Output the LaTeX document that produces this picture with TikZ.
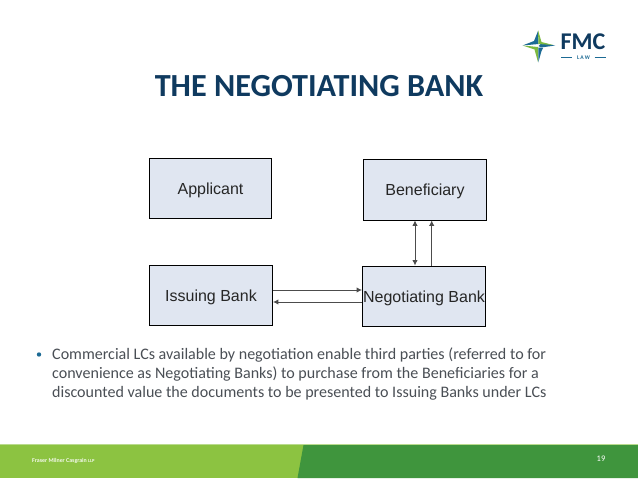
\documentclass[tikz,border=0pt]{standalone}
\usepackage{fontspec}
\setmainfont{Carlito}
\newfontfamily\arialf{Liberation Sans}
\usetikzlibrary{arrows.meta}
\definecolor{navy}{HTML}{0F3A5F}
\definecolor{boxfill}{HTML}{E0E6F1}
\definecolor{lgreen}{HTML}{8CC341}
\definecolor{dgreen}{HTML}{3F953D}
\definecolor{bodyc}{HTML}{4A4F55}
\definecolor{logob}{HTML}{1C6A94}
\tikzset{
  bankbox/.style={draw=black,fill=boxfill,line width=0.9pt,minimum width=0pt,inner sep=0pt,text height=15pt,text depth=3pt,font=\arialf\fontsize{16}{18}\selectfont,text=black!85},
  flow/.style={draw=black!70,line width=1pt,-{Latex[length=5.5pt,width=5.5pt]}},
  bothflow/.style={draw=black!70,line width=1pt,{Latex[length=5.5pt,width=5.5pt]}-{Latex[length=5.5pt,width=5.5pt]}},
  bodyline/.style={anchor=base west,inner sep=0pt,text=bodyc,font=\fontsize{16.05}{19}\selectfont}
}
\begin{document}
\begin{tikzpicture}[x=1pt,y=-1pt]
\useasboundingbox (0,0) rectangle (638,479);
\fill[white] (0,0) rectangle (638,479);
% footer
\fill[lgreen] (0,445) rectangle (638,478);
\fill[dgreen] (303.5,445) -- (638,445) -- (638,478) -- (297.5,478) -- cycle;
\draw[lgreen!60!white,line width=0.8pt] (0,444.7) -- (638,444.7);
\node[anchor=west,inner sep=0pt,text=white!90!lgreen,font=\bfseries\fontsize{5.9}{7}\selectfont] (firm) at (32,461) {Fraser Milner Casgrain \fontsize{4.6}{7}\selectfont LLP};
\node[inner sep=0pt,text=white,font=\fontsize{8.5}{10}\selectfont] (pageno) at (601,459) {19};
% logo
\fill[logob] (538.5,46) -- (541.5,43) -- (555,45.5) -- (541,47.5) -- cycle;
\fill[logob] (522.5,45.5) -- (534,41) -- (538,31) -- (538.5,44) -- cycle;
\fill[lgreen!80!dgreen] (538,30) -- (541.5,42) -- (553,45) -- (538.5,44) -- cycle;
\fill[lgreen!80!dgreen] (522.5,45.5) -- (538,47) -- (538,62) -- (534.5,49.5) -- cycle;
\fill[logob] (538.3,62.5) -- (538.3,47.5) -- (543,48) -- (541.5,51) -- cycle;
\node[anchor=base west,inner sep=0pt,text=navy,font=\bfseries\fontsize{24}{26}\selectfont] (fmc) at (560.5,49) {FMC};
\node[inner sep=0pt,text=logob,font=\bfseries\fontsize{5.6}{7}\selectfont] (law) at (583.5,57.6) {L\,A\,W};
\draw[logob,line width=0.8pt] (561,57.6) -- (572,57.6) (594.5,57.6) -- (606,57.6);
% title
\node[inner sep=0pt,text=navy,font=\bfseries\fontsize{32.2}{36}\selectfont] (title) at (319,86) {THE NEGOTIATING BANK};
% boxes
\node[bankbox,minimum width=122pt,minimum height=60pt] (app) at (210.5,188.5) {Applicant};
\node[bankbox,minimum width=123.5pt,minimum height=60.5pt] (ben) at (425,189.7) {Beneficiary};
\node[bankbox,minimum width=123pt,minimum height=60pt] (iss) at (211,295.5) {Issuing Bank};
\node[bankbox,minimum width=123pt,minimum height=60pt] (neg) at (424,296) {Negotiating Bank};
% connectors
\draw[flow] (iss.east |- 0,290) -- (neg.west |- 0,290);
\draw[flow] (neg.west |- 0,302) -- (iss.east |- 0,302);
\draw[bothflow] (415,0 |- neg.north) -- (415,0 |- ben.south);
\draw[flow] (431.7,0 |- neg.north) -- (431.7,0 |- ben.south);
% bullet text
\fill[logob] (39,354.5) circle (2.2pt);
\node[bodyline] (l1) at (52,359.5) {Commercial LCs available by negotiation enable third parties (referred to for};
\node[bodyline] (l2) at (52,378) {convenience as Negotiating Banks) to purchase from the Beneficiaries for a};
\node[bodyline] (l3) at (52,397.5) {discounted value the documents to be presented to Issuing Banks under LCs};
\end{tikzpicture}
\end{document}
